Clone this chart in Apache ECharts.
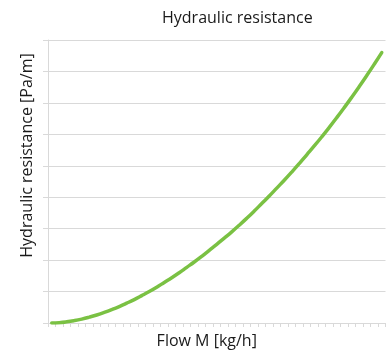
<!DOCTYPE html>
<html>
<head>
<meta charset="utf-8">
<script src="https://cdn.jsdelivr.net/npm/echarts@6/dist/echarts.min.js"></script>
<style>
  html, body { margin: 0; padding: 0; background: #fff; }
  #chart { width: 390px; height: 352px; }
</style>
</head>
<body>
<div id="chart"></div>
<script>
// Flow steps (no tick labels are shown on the axis)
const flowSteps = [
  0, 1, 2, 3, 4, 5, 6, 7, 8, 9, 10, 11, 12, 13, 14, 15, 16, 17, 18, 19, 20, 21,
  22, 23, 24, 25, 26, 27, 28, 29, 30, 31, 32, 33, 34, 35, 36, 37, 38, 39, 40,
  41, 42, 43, 44
];

// Hydraulic resistance for each flow step
const resistance = [
  0, 0.11, 0.37, 0.75, 1.24, 1.85, 2.55, 3.35, 4.24, 5.22, 6.3, 7.45, 8.7,
  10.0, 11.4, 12.9, 14.4, 16.0, 17.7, 19.4, 21.2, 23.1, 25.0, 27.0, 29.0,
  31.1, 33.3, 35.6, 38.0, 40.4, 42.9, 45.4, 48.0, 50.7, 53.5, 56.3, 59.2,
  62.2, 65.3, 68.5, 71.8, 75.2, 78.7, 82.3, 86.0
];

const chart = echarts.init(document.getElementById('chart'), null, { renderer: 'canvas' });
const font = '"Open Sans", "Noto Sans", sans-serif';
const gridGray = '#d9d9d9';
const textColor = '#1a1a1a';

chart.setOption({
  animation: false,
  backgroundColor: '#ffffff',
  title: {
    text: 'Hydraulic resistance',
    left: 157,
    top: 5,
    textStyle: { fontFamily: font, fontSize: 16, fontWeight: 'normal', color: textColor }
  },
  grid: {
    left: 48, right: 4.5, top: 40, bottom: 29,
    containLabel: false,
    outerBoundsMode: 'none'
  },
  xAxis: {
    type: 'category',
    data: flowSteps,
    boundaryGap: true,
    name: 'Flow M [kg/h]',
    nameLocation: 'middle',
    nameGap: 10,
    nameTextStyle: { fontFamily: font, fontSize: 16, color: textColor, padding: [0, 20, 0, 0] },
    axisLine: { show: true, lineStyle: { color: gridGray, width: 1 } },
    axisTick: { show: true, interval: 0, length: 4, lineStyle: { color: gridGray } },
    axisLabel: { show: false },
    splitLine: { show: false }
  },
  yAxis: {
    type: 'value',
    min: 0,
    max: 90,
    interval: 10,
    name: 'Hydraulic resistance [Pa/m]',
    nameLocation: 'middle',
    nameRotate: 90,
    nameGap: 13,
    nameTextStyle: { fontFamily: font, fontSize: 16, color: textColor, padding: [0, 0, 0, 52] },
    axisLine: { show: true, lineStyle: { color: gridGray, width: 1 } },
    axisTick: { show: true, length: 5, lineStyle: { color: gridGray } },
    axisLabel: { show: false },
    splitLine: { show: true, lineStyle: { color: gridGray, width: 1 } }
  },
  series: [{
    type: 'line',
    data: resistance,
    smooth: true,
    showSymbol: false,
    lineStyle: { color: '#7ac143', width: 3.5, cap: 'round' },
    itemStyle: { color: '#7ac143' }
  }]
});
</script>
</body>
</html>
